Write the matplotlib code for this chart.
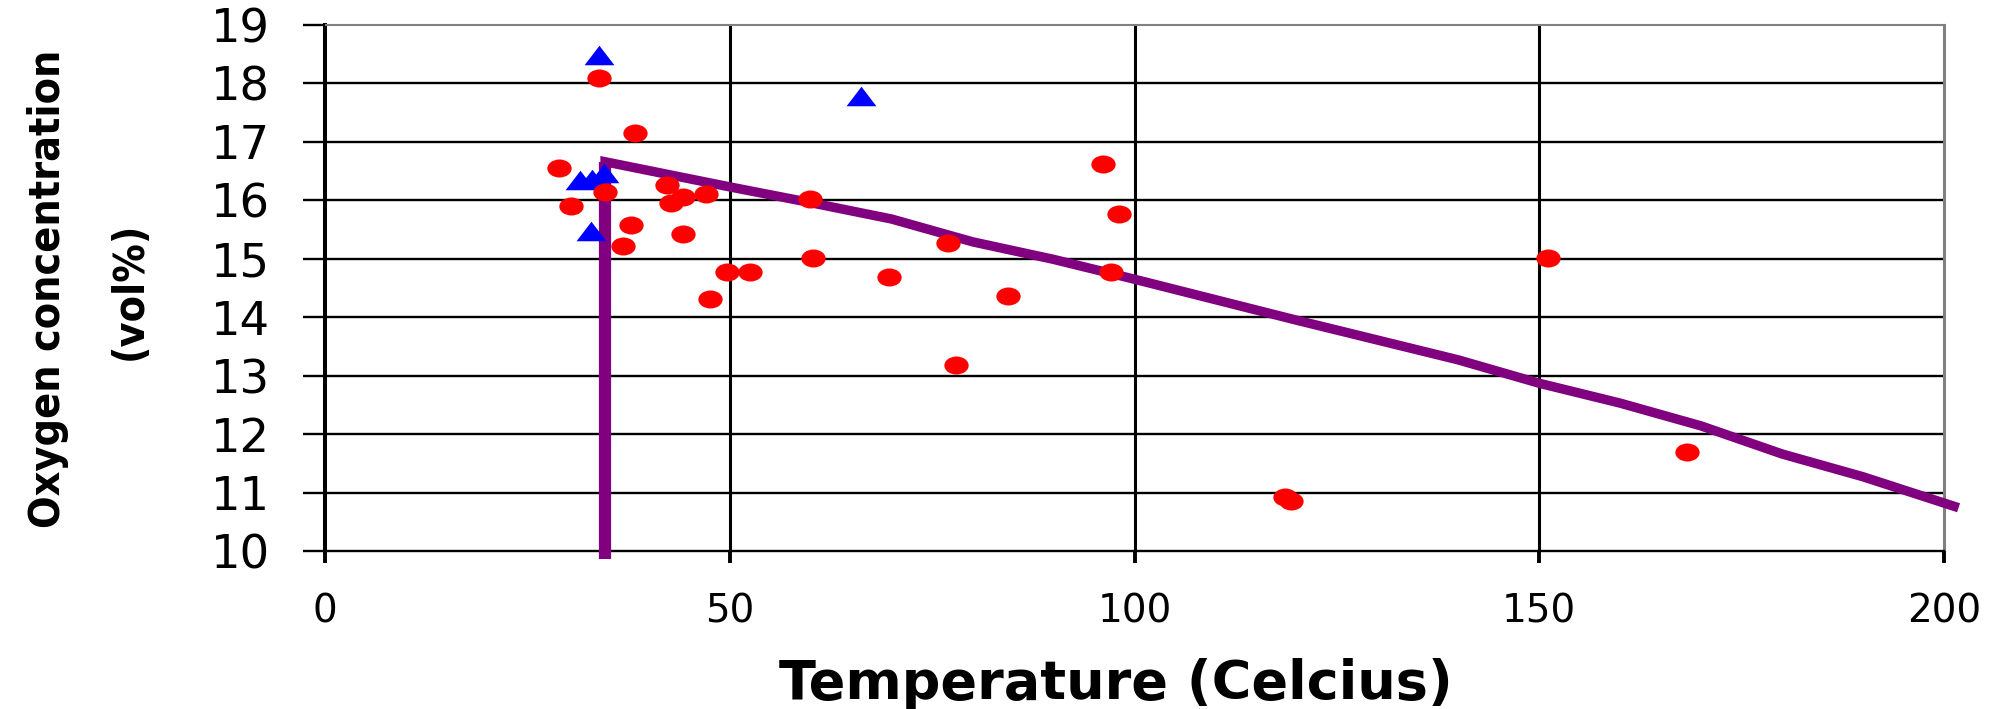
import os
import matplotlib
matplotlib.use("Agg")
import matplotlib.pyplot as plt
from matplotlib.path import Path
from matplotlib import font_manager
from matplotlib.font_manager import FontProperties
import numpy as np

# ---- data ----
red_x = [28.9, 30.4, 33.9, 34.6, 38.3, 37.8, 36.8, 42.2, 42.7, 44.2, 44.2, 47.1,
         47.6, 49.6, 52.5, 59.9, 60.3, 69.7, 77.0, 78.0, 84.4, 96.1, 97.1, 98.1,
         118.6, 119.3, 151.1, 168.2]
red_y = [16.56, 15.91, 18.10, 16.15, 17.16, 15.57, 15.22, 16.26, 15.96, 16.06, 15.42, 16.11,
         14.32, 14.77, 14.77, 16.02, 15.02, 14.68, 15.27, 13.18, 14.37, 16.62, 14.77, 15.77,
         10.92, 10.85, 15.02, 11.69]

blue_x = [33.9, 31.5, 33.0, 34.5, 32.9, 66.2]
blue_y = [18.49, 16.35, 16.36, 16.47, 15.48, 17.78]

line_x = [34.6, 34.6, 50, 60, 70, 80, 90, 100, 110, 120, 130, 140, 150, 160, 170, 180, 190, 201.8]
line_y = [9.87, 16.66, 16.23, 15.96, 15.68, 15.29, 14.99, 14.65, 14.30, 13.95, 13.61, 13.27,
          12.87, 12.53, 12.14, 11.66, 11.27, 10.74]

x_ticks = [0, 50, 100, 150, 200]
y_ticks = [10, 11, 12, 13, 14, 15, 16, 17, 18, 19]
x_label = "Temperature (Celcius)"
y_label_1 = "Oxygen concentration"
y_label_2 = "(vol%)"

# ---- pick a narrow bold font for the rotated label (fallback: Liberation Sans) ----
ylab_fp = FontProperties(family="Liberation Sans", weight="bold")
cands = [("Liberation Sans Narrow", "normal"), ("Noto Sans Condensed", "normal"),
         ("Noto Sans", "condensed"), ("DejaVu Sans", "condensed"),
         ("Open Sans Condensed", "normal"), ("Open Sans", "condensed"),
         ("Roboto Condensed", "normal"), ("Roboto", "condensed")]
for fam, st in cands:
    try:
        f = font_manager.findfont(FontProperties(family=fam, weight="bold", stretch=st),
                                  fallback_to_default=False)
    except Exception:
        continue
    b = os.path.basename(f).lower()
    if ("narrow" in b or "condensed" in b or "cond" in b) and ("bold" in b or "bd" in b):
        ylab_fp = FontProperties(fname=f)
        break

# ---- markers ----
circ = Path.unit_circle()
ellipse = Path(circ.vertices * np.array([1.35, 1.0]), circ.codes)
h = 0.654
tri = Path([(-1, -h), (1, -h), (0, h), (-1, -h)],
           [Path.MOVETO, Path.LINETO, Path.LINETO, Path.CLOSEPOLY])

fig = plt.figure(figsize=(20.11, 7.09), dpi=100)
ax = fig.add_axes([325 / 2011, 1 - 551 / 709, (1944 - 325) / 2011, (551 - 25) / 709])
ax.set_xlim(0, 200)
ax.set_ylim(10, 19)

# grid
for yv in y_ticks[1:-1]:
    ax.axhline(yv, color="black", lw=1.7, zorder=0.5)
for xv in x_ticks[1:-1]:
    ax.axvline(xv, color="black", lw=2.2, zorder=0.5)

purple = "#800080"
ax.plot(line_x, line_y, color=purple, lw=6.8, solid_capstyle="butt",
        solid_joinstyle="miter", clip_on=False, zorder=2)
ax.plot(line_x[:2], line_y[:2], color=purple, lw=8.8, solid_capstyle="butt",
        clip_on=False, zorder=2)

ax.plot(blue_x, blue_y, linestyle="none", marker=tri, markersize=21.5,
        markerfacecolor="#0000FF", markeredgewidth=0, zorder=3, clip_on=False)
ax.plot(red_x, red_y, linestyle="none", marker=ellipse, markersize=17.5,
        markerfacecolor="#FF0000", markeredgewidth=0, zorder=4, clip_on=False)

# spines
ax.spines["left"].set_color("black")
ax.spines["left"].set_linewidth(2.9)
ax.spines["bottom"].set_color("black")
ax.spines["bottom"].set_linewidth(1.7)
ax.spines["top"].set_color("#808080")
ax.spines["top"].set_linewidth(1.5)
ax.spines["right"].set_color("#808080")
ax.spines["right"].set_linewidth(2.2)
for s in ax.spines.values():
    s.set_zorder(1)

ax.set_xticks(x_ticks)
ax.set_yticks(y_ticks)
ax.set_xticklabels([str(v) for v in x_ticks], fontsize=28, family="DejaVu Sans")
ax.set_yticklabels([str(v) for v in y_ticks], fontsize=33.5, family="DejaVu Sans")
ax.tick_params(axis="y", direction="out", length=15.8, width=1.7, pad=24, colors="black")
ax.tick_params(axis="x", direction="out", length=8.6, width=2.8, pad=21, colors="black")

fig.text(1116 / 2011, 1 - 699 / 709, x_label, ha="center", va="baseline",
         fontsize=39, fontweight="bold", family="DejaVu Sans")

# rotated two-line y label, sized so the first line spans ~478 px like the reference
t1 = fig.text(48 / 2011, 1 - 289 / 709, y_label_1, rotation=90, ha="center", va="center",
              fontproperties=ylab_fp)
t2 = fig.text(130 / 2011, 1 - 291 / 709, y_label_2, rotation=90, ha="center", va="center",
              fontproperties=ylab_fp)
t1.set_fontsize(36)
t2.set_fontsize(36)
r = fig.canvas.get_renderer()
length = t1.get_window_extent(r).height
size = 36 * 478 / length
size = min(size, 46)
t1.set_fontsize(size)
t2.set_fontsize(size)

fig.savefig("out.png", dpi=100)
